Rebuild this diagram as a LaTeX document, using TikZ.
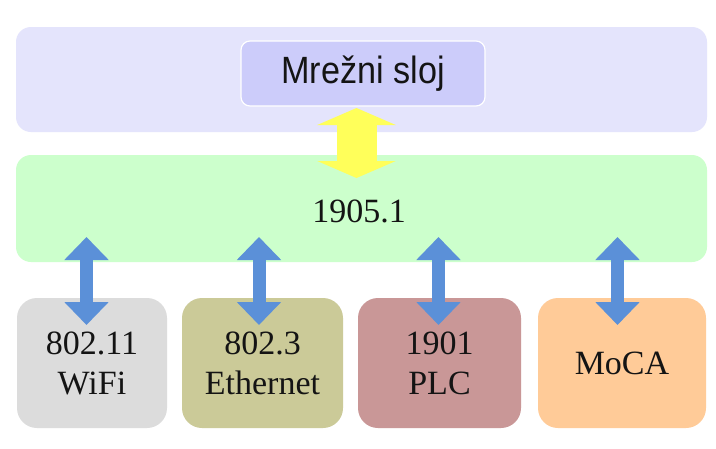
\documentclass[tikz,border=0pt]{standalone}
\usepackage{fontspec}
\setmainfont{Liberation Serif}
\newfontfamily\sansfam{Liberation Sans}
\usetikzlibrary{arrows.meta}
\definecolor{lavbg}{HTML}{E4E4FC}
\definecolor{lavin}{HTML}{CCCCFA}
\definecolor{greenbg}{HTML}{CCFFCC}
\definecolor{wific}{HTML}{DCDCDC}
\definecolor{ethc}{HTML}{CBCA98}
\definecolor{plcc}{HTML}{C99797}
\definecolor{mocac}{HTML}{FFCB98}
\definecolor{bluearr}{HTML}{5B90D8}
\definecolor{yelarr}{HTML}{FFFF5A}
\definecolor{txt}{HTML}{141414}
\tikzset{
  layer/.style={fill=#1, draw=none, rounded corners=15pt, inner sep=0pt},
  techbox/.style={fill=#1, draw=none, rounded corners=20pt, inner sep=0pt,
    minimum height=130pt, text=txt, align=center,
    font=\fontsize{34}{40}\selectfont},
  bluelink/.style={draw=bluearr, line width=13pt,
    {Triangle[width=43pt,length=23pt]}-{Triangle[width=43pt,length=23pt]}},
  yellink/.style={draw=yelarr, line width=40pt,
    {Triangle[width=78pt,length=17pt]}-{Triangle[width=78pt,length=17pt]}}
}
\begin{document}
\begin{tikzpicture}[x=1pt,y=-1pt]
\useasboundingbox (0,0) rectangle (716,448);
\fill[white] (0,0) rectangle (716,448);
% layers
\node[layer=lavbg, minimum width=691pt, minimum height=105pt] (top) at (361.5,79.5) {};
\node[fill=lavin, draw=white, line width=1.2pt, rounded corners=9pt, inner sep=0pt,
  minimum width=244pt, minimum height=65pt, text=txt,
  font=\sansfam\fontsize{38}{40}\selectfont] (net) at (363,73.5) {\scalebox{0.9}[1]{Mrežni sloj}};
\node[layer=greenbg, minimum width=691pt, minimum height=107pt] (std) at (361.5,208.5) {};
\node[text=txt, font=\fontsize{34}{40}\selectfont, inner sep=0pt] (stdlbl) at (359,211) {1905.1};
% technology boxes
\node[techbox=wific, minimum width=150pt] (wifi) at (92,363) {802.11\\WiFi};
\node[techbox=ethc, minimum width=161pt] (eth) at (262.5,363) {802.3\\Ethernet};
\node[techbox=plcc, minimum width=163pt] (plc) at (439.5,363) {1901\\PLC};
\node[techbox=mocac, minimum width=168pt] (moca) at (622,363) {MoCA};
% arrow end points
\coordinate (y1) at (356.5,108);
\coordinate (y2) at (356.5,178);
\coordinate (a1) at (86.5,237);  \coordinate (b1) at (86.5,325);
\coordinate (a2) at (259,237);   \coordinate (b2) at (259,325);
\coordinate (a3) at (438.5,237); \coordinate (b3) at (438.5,325);
\coordinate (a4) at (617.5,237); \coordinate (b4) at (617.5,325);
% arrows
\draw[yellink] (y1) -- (y2);
\draw[bluelink] (a1) -- (b1);
\draw[bluelink] (a2) -- (b2);
\draw[bluelink] (a3) -- (b3);
\draw[bluelink] (a4) -- (b4);
\end{tikzpicture}
\end{document}
